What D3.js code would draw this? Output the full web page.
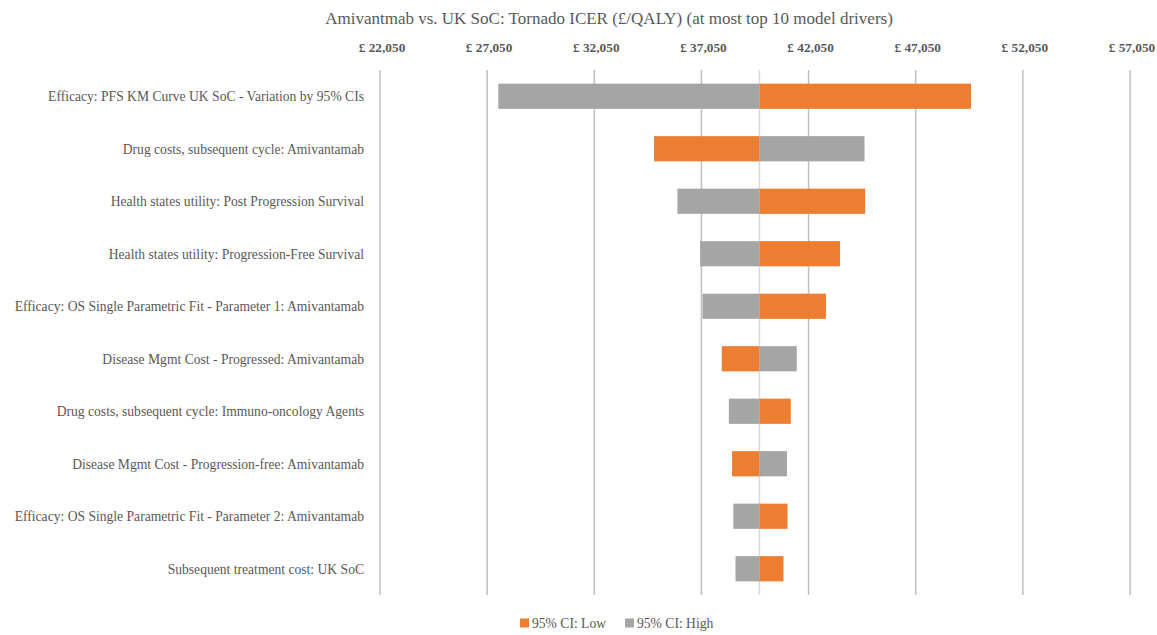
<!DOCTYPE html>
<html>
  <head>
    <meta charset="utf-8">
    <title>Tornado ICER</title>
    <style>
      body { margin: 0; background: #fff; }
      text { font-family: "Liberation Serif", "Times New Roman", serif; fill: #595959; }
      .grid line { stroke: #bfbfbf; stroke-width: 1.5; }
      .tick-label { font-weight: bold; font-size: 13.3px; }
      .cat-label { font-size: 13.6px; }
    </style>
  </head>
  <body>
    <script src="https://d3js.org/d3.v7.min.js"></script>
    <script>

        // data
        var drivers = [
          "Efficacy: PFS KM Curve UK SoC - Variation by 95% CIs",
          "Drug costs, subsequent cycle: Amivantamab",
          "Health states utility: Post Progression Survival",
          "Health states utility: Progression-Free Survival",
          "Efficacy: OS Single Parametric Fit - Parameter 1: Amivantamab",
          "Disease Mgmt Cost - Progressed: Amivantamab",
          "Drug costs, subsequent cycle: Immuno-oncology Agents",
          "Disease Mgmt Cost - Progression-free: Amivantamab",
          "Efficacy: OS Single Parametric Fit - Parameter 2: Amivantamab",
          "Subsequent treatment cost: UK SoC"
        ];
        var lowValues  = [49630, 34840, 44690, 43520, 42860, 38000, 41220, 38480, 41070, 40880];
        var highValues = [27570, 44660, 35930, 36990, 37100, 41500, 38330, 41040, 38540, 38640];
        var baseIcer = 39758;
        var tickValues = [22050, 27050, 32050, 37050, 42050, 47050, 52050, 57050];
        var seriesNames = ["95% CI: Low", "95% CI: High"];
        var seriesColors = ["#ed7d31", "#a5a5a5"];

        var margin = {top: 70, right: 27, bottom: 40, left: 380},
            width = 1157 - margin.left - margin.right,
            height = 635 - margin.top - margin.bottom;

        var x = d3.scaleLinear()
                  .domain([22050, 57050])
                  .range([0, width]);
        var y = d3.scaleBand()
                  .domain(drivers)
                  .range([0, height])
                  .paddingInner(0.52)
                  .paddingOuter(0.26);

        var svg = d3.select("body").append("svg")
            .attr("width", 1157)
            .attr("height", 635);

        svg.append("text")
            .attr("x", 609)
            .attr("y", 24)
            .attr("text-anchor", "middle")
            .style("font-size", "17px")
            .text("Amivantmab vs. UK SoC: Tornado ICER (£/QALY) (at most top 10 model drivers)");

        var chart = svg.append("g")
            .attr("transform", "translate(" + margin.left + "," + margin.top + ")");

        // vertical gridlines
        chart.append("g").attr("class", "grid")
          .selectAll("line")
          .data(tickValues)
          .enter().append("line")
            .attr("x1", function(d) { return x(d); })
            .attr("x2", function(d) { return x(d); })
            .attr("y1", 0)
            .attr("y2", height);

        // tick labels on top
        chart.selectAll(".tick-label")
            .data(tickValues)
            .enter().append("text")
            .attr("class", "tick-label")
            .attr("x", function(d) { return x(d) + 2; })
            .attr("y", -18)
            .attr("text-anchor", "middle")
            .text(function(d) { return "£ " + d3.format(",")(d); });

        // base case line
        chart.append("line")
            .attr("x1", x(baseIcer))
            .attr("x2", x(baseIcer))
            .attr("y1", 0)
            .attr("y2", height)
            .style("stroke", "#d9d9d9")
            .style("stroke-width", 1.5);

        var series = [lowValues, highValues];
        series.forEach(function(vals, s) {
          chart.selectAll(".bar-" + s)
              .data(vals)
              .enter().append("rect")
              .attr("class", "bar-" + s)
              .attr("x", function(d) { return x(Math.min(d, baseIcer)); })
              .attr("width", function(d) { return Math.abs(x(d) - x(baseIcer)); })
              .attr("y", function(d, i) { return y(drivers[i]); })
              .attr("height", y.bandwidth())
              .style("fill", seriesColors[s]);
        });

        // category labels
        chart.selectAll(".cat-label")
            .data(drivers)
            .enter().append("text")
            .attr("class", "cat-label")
            .attr("x", -16)
            .attr("y", function(d) { return y(d) + y.bandwidth() / 2; })
            .attr("dy", "0.35em")
            .attr("text-anchor", "end")
            .text(function(d) { return d; });

        // legend
        var legendX = [520, 625];
        var legend = svg.selectAll(".legend")
            .data(seriesNames)
            .enter().append("g")
            .attr("class", "legend")
            .attr("transform", function(d, i) { return "translate(" + legendX[i] + ",623)"; });

        legend.append("rect")
            .attr("x", 0)
            .attr("y", -4.5)
            .attr("width", 9)
            .attr("height", 9)
            .style("fill", function(d, i) { return seriesColors[i]; });

        legend.append("text")
            .attr("x", 12)
            .attr("dy", "0.35em")
            .style("font-size", "13.6px")
            .text(function(d) { return d; });

    </script>
  </body>
</html>
